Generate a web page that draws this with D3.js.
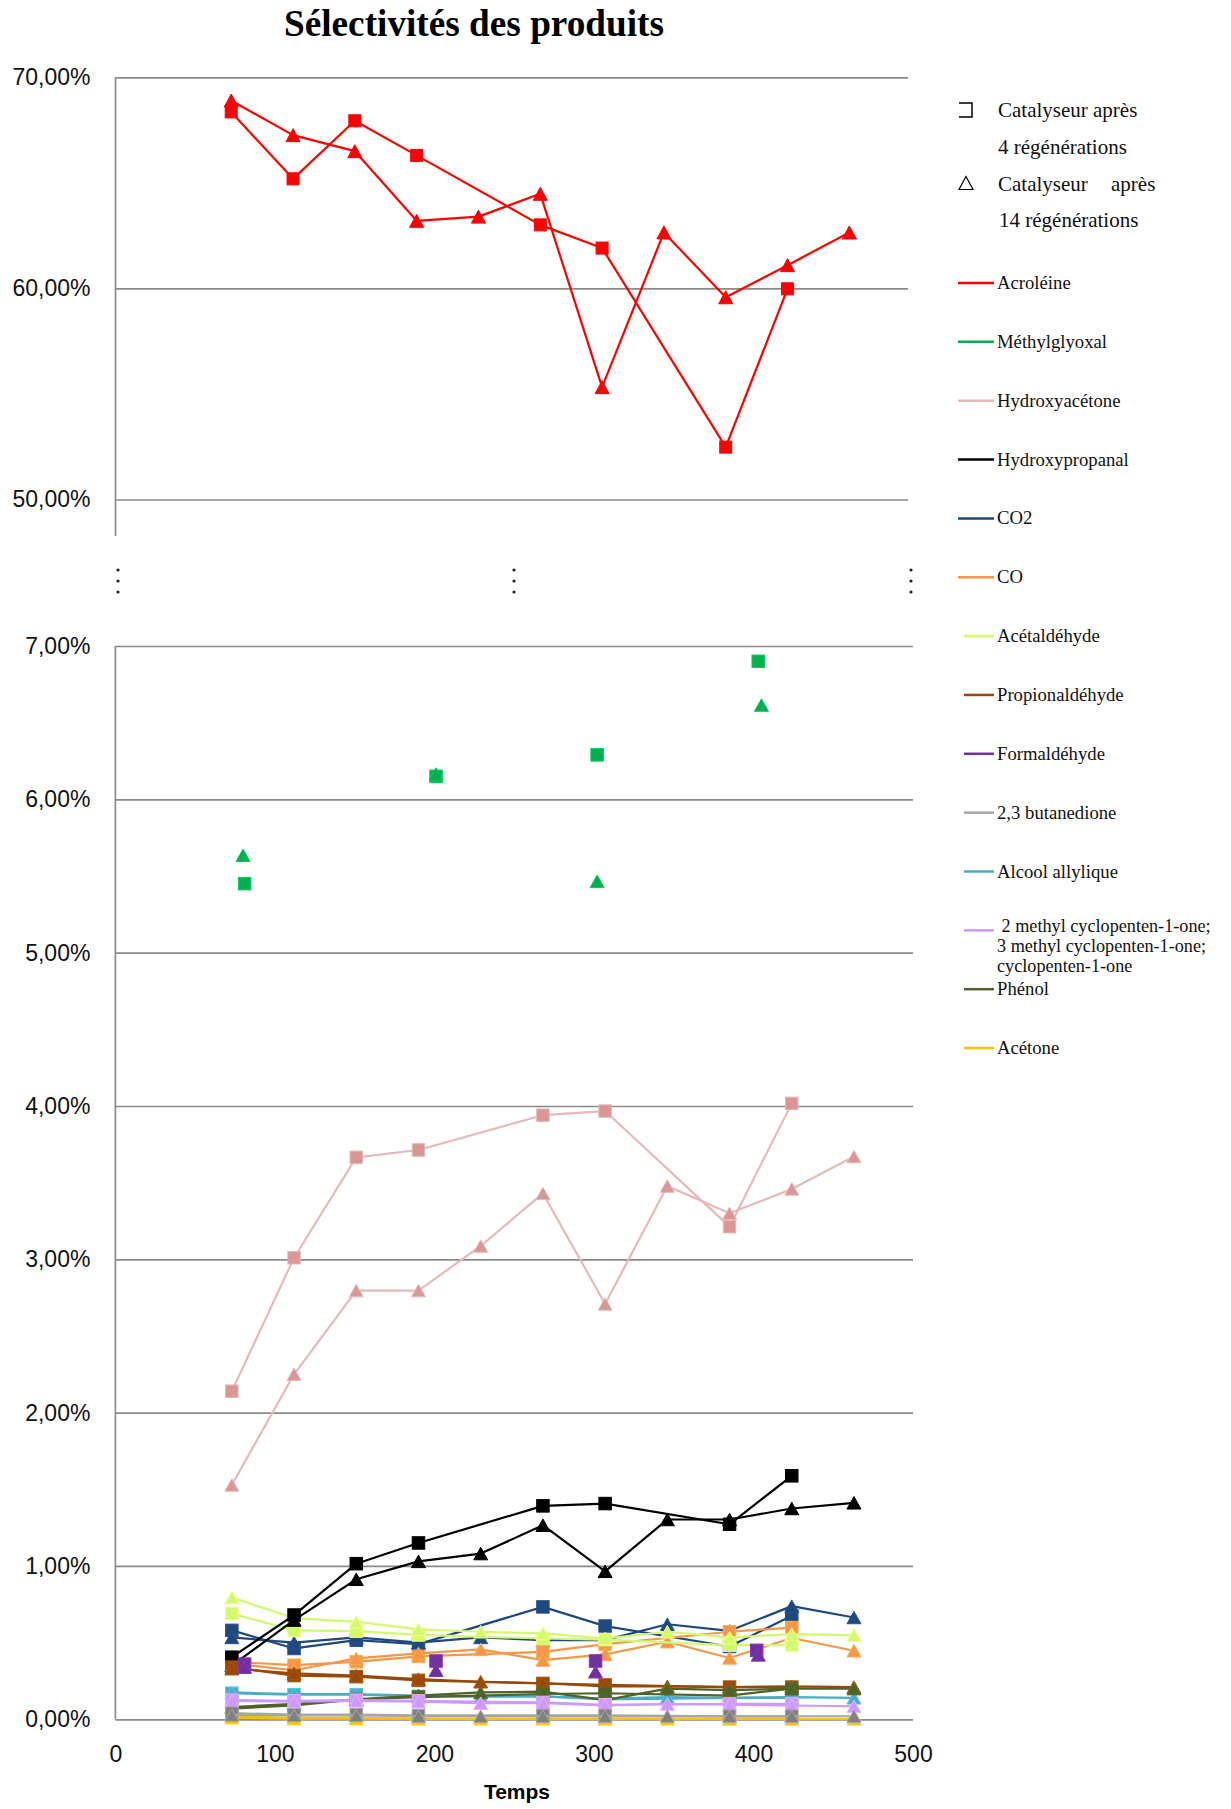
<!DOCTYPE html>
<html><head><meta charset="utf-8">
<script src="https://cdn.jsdelivr.net/npm/d3@7/dist/d3.min.js"></script>
<style>body{margin:0;background:#fff}svg{display:block}</style>
</head><body>
<svg id="c" width="1231" height="1809"></svg>
<script>
// ---------- DATA ----------
const titleText = "Sélectivités des produits";
const xLabel = "Temps";
const xTicks = [0, 100, 200, 300, 400, 500];
const topTicks = [50, 60, 70];
const bottomTicks = [0, 1, 2, 3, 4, 5, 6, 7];
// times (x) : squares = catalyseur après 4 régénérations, triangles = après 14 régénérations
const timesSq = [73, 112, 151, 190, 268, 307, 385, 424];
const timesTri = [73, 112, 151, 190, 229, 268, 307, 346, 385, 424, 463];
const methylTimesSq = [81, 201, 302, 403];
const methylTimesTri = [80, 201, 302, 405];
const formTimesSq = [81, 201, 301, 402];
const formTimesTri = [81, 201, 301, 403];

const acroleineSq = [68.36, 65.19, 67.94, 66.30, 63.01, 61.91, 52.48, 59.98];
const acroleineTri = [68.9, 67.26, 66.5, 63.2, 63.4, 64.48, 55.32, 62.65, 59.58, 61.1, 62.65];
const methylglyoxalSq = [5.45, 6.15, 6.29, 6.90];
const methylglyoxalTri = [5.635, 6.165, 5.465, 6.615];
const hydroxyacetoneSq = [2.14, 3.01, 3.665, 3.713, 3.94, 3.967, 3.213, 4.017];
const hydroxyacetoneTri = [1.528, 2.25, 2.796, 2.796, 3.087, 3.43, 2.709, 3.478, 3.30, 3.459, 3.67];
const hydroxypropanalSq = [0.405, 0.68, 1.015, 1.15, 1.392, 1.407, 1.272, 1.588];
const hydroxypropanalTri = [0.35, 0.647, 0.913, 1.03, 1.081, 1.266, 0.965, 1.303, 1.303, 1.375, 1.412];
const co2Sq = [0.58, 0.462, 0.516, 0.49, 0.733, 0.608, 0.475, 0.675];
const co2Tri = [0.534, 0.50, 0.534, 0.50, 0.534, 0.516, 0.516, 0.62, 0.577, 0.738, 0.664];
const coSq = [0.375, 0.353, 0.375, 0.41, 0.44, 0.49, 0.571, 0.598];
const coTri = [0.364, 0.32, 0.397, 0.43, 0.456, 0.386, 0.423, 0.506, 0.40, 0.53, 0.447];
const acetaldehydeSq = [0.69, 0.58, 0.575, 0.55, 0.527, 0.52, 0.484, 0.484];
const acetaldehydeTri = [0.794, 0.66, 0.636, 0.586, 0.571, 0.56, 0.527, 0.571, 0.534, 0.556, 0.549];
const propionaldehydeSq = [0.34, 0.285, 0.278, 0.254, 0.234, 0.224, 0.21, 0.21];
const propionaldehydeTri = [0.33, 0.30, 0.285, 0.262, 0.245, 0.235, 0.215, 0.215, 0.21, 0.215, 0.21];
const formaldehydeSq = [0.36, 0.38, 0.38, 0.45];
const formaldehydeTri = [0.34, 0.32, 0.31, 0.42];
const butanedioneSq = [0.04, 0.03, 0.03, 0.025, 0.025, 0.025, 0.02, 0.02];
const butanedioneTri = [0.028, 0.025, 0.025, 0.02, 0.02, 0.02, 0.02, 0.02, 0.02, 0.02, 0.02];
const allyliqueSq = [0.17, 0.16, 0.16, 0.15, 0.15, 0.13, 0.14, 0.14];
const allyliqueTri = [0.175, 0.165, 0.165, 0.155, 0.15, 0.15, 0.135, 0.145, 0.14, 0.145, 0.14];
const cyclopentenoneSq = [0.125, 0.12, 0.125, 0.12, 0.11, 0.095, 0.10, 0.10];
const cyclopentenoneTri = [0.12, 0.115, 0.12, 0.115, 0.105, 0.105, 0.09, 0.10, 0.095, 0.09, 0.085];
const phenolSq = [0.07, 0.09, 0.13, 0.145, 0.165, 0.17, 0.155, 0.20];
const phenolTri = [0.08, 0.10, 0.13, 0.155, 0.175, 0.18, 0.125, 0.20, 0.19, 0.20, 0.20];
const acetoneSq = [0.02, 0.01, 0.01, 0.005, 0.005, 0.005, 0.004, 0.004];
const acetoneTri = [0.01, 0.004, 0.004, 0.003, 0.003, 0.003, 0.003, 0.003, 0.003, 0.003, 0.003];

const legendHeader = [["Catalyseur après", "4 régénérations"], ["Catalyseur", "après", "14 régénérations"]];
const productNames = ["Acroléine", "Méthylglyoxal", "Hydroxyacétone", "Hydroxypropanal", "CO2", "CO",
  "Acétaldéhyde", "Propionaldéhyde", "Formaldéhyde", "2,3 butanedione", "Alcool allylique",
  " 2 methyl cyclopenten-1-one;\n3 methyl cyclopenten-1-one;\ncyclopenten-1-one", "Phénol", "Acétone"];
const lineColors = ["#FF0000", "#00B050", "#E6B9B8", "#000000", "#1F497D", "#F79646",
  "#D2FA6E", "#984807", "#7030A0", "#A6A6A6", "#4BACC6", "#CC99FF", "#4F6228", "#FFC000"];
const markerColors = ["#FF0000", "#00B050", "#D99694", "#000000", "#1F497D", "#F79646",
  "#D2FA6E", "#984807", "#7030A0", "#808080", "#4BACC6", "#CC99FF", "#4F6228", "#FFC000"];

// series table built from the arrays above (drawing order)
const bottomSeries = [
  {p: 13, ts: timesSq, sq: acetoneSq, tt: timesTri, tr: acetoneTri, line: true},
  {p: 1, ts: methylTimesSq, sq: methylglyoxalSq, tt: methylTimesTri, tr: methylglyoxalTri, line: false},
  {p: 2, ts: timesSq, sq: hydroxyacetoneSq, tt: timesTri, tr: hydroxyacetoneTri, line: true},
  {p: 4, ts: timesSq, sq: co2Sq, tt: timesTri, tr: co2Tri, line: true},
  {p: 5, ts: timesSq, sq: coSq, tt: timesTri, tr: coTri, line: true},
  {p: 6, ts: timesSq, sq: acetaldehydeSq, tt: timesTri, tr: acetaldehydeTri, line: true},
  {p: 3, ts: timesSq, sq: hydroxypropanalSq, tt: timesTri, tr: hydroxypropanalTri, line: true},
  {p: 7, ts: timesSq, sq: propionaldehydeSq, tt: timesTri, tr: propionaldehydeTri, line: true},
  {p: 8, ts: formTimesSq, sq: formaldehydeSq, tt: formTimesTri, tr: formaldehydeTri, line: false},
  {p: 10, ts: timesSq, sq: allyliqueSq, tt: timesTri, tr: allyliqueTri, line: true},
  {p: 12, ts: timesSq, sq: phenolSq, tt: timesTri, tr: phenolTri, line: true},
  {p: 11, ts: timesSq, sq: cyclopentenoneSq, tt: timesTri, tr: cyclopentenoneTri, line: true},
  {p: 9, ts: timesSq, sq: butanedioneSq, tt: timesTri, tr: butanedioneTri, line: true}
];
const topSeries = [{p: 0, ts: timesSq, sq: acroleineSq, tt: timesTri, tr: acroleineTri, line: true}];

// ---------- DRAWING ----------
const svg = d3.select("#c");
const fmt = d => d3.format(".2f")(d).replace(".", ",") + "%";
const tickFont = "'Liberation Sans', Arial, sans-serif";
const serif = "'Liberation Serif', 'Times New Roman', serif";

const xTop = d3.scaleLinear().domain([0, 500]).range([115.5, 908]);
const yTop = d3.scaleLinear().domain([48.27, 70]).range([536, 77.3]);
const xBot = d3.scaleLinear().domain([0, 500]).range([115.4, 913]);
const yBot = d3.scaleLinear().domain([0, 7]).range([1719.3, 646]);

function gridAxis(x, y, ticks) {
  const g = svg.append("g").attr("transform", `translate(${x.range()[0]},0)`)
    .call(d3.axisLeft(y).tickValues(ticks).tickSize(-(x.range()[1] - x.range()[0])).tickPadding(25).tickFormat(fmt));
  g.select(".domain").remove();
  g.selectAll(".tick line").attr("stroke", "#8a8a8a").attr("stroke-width", 1.7);
  g.selectAll(".tick text").attr("font-family", tickFont).attr("font-size", 23).attr("fill", "#111");
  svg.append("line").attr("x1", x.range()[0]).attr("x2", x.range()[0])
    .attr("y1", y.range()[1]).attr("y2", y.range()[0]).attr("stroke", "#8a8a8a").attr("stroke-width", 1.7);
}
gridAxis(xTop, yTop, topTicks);
gridAxis(xBot, yBot, bottomTicks);

// x axis labels (bottom)
const xa = svg.append("g").attr("transform", `translate(0,${yBot(0)})`)
  .call(d3.axisBottom(xBot).tickValues(xTicks).tickSize(0).tickPadding(26));
xa.select(".domain").remove();
xa.selectAll(".tick text").attr("font-family", tickFont).attr("font-size", 23).attr("fill", "#111");
svg.append("text").attr("x", 517).attr("y", 1799).attr("text-anchor", "middle")
  .attr("font-family", tickFont).attr("font-weight", "bold").attr("font-size", 21).text(xLabel);

// title
svg.append("text").attr("x", 474).attr("y", 36).attr("text-anchor", "middle")
  .attr("font-family", serif).attr("font-weight", "bold").attr("font-size", 37)
  .attr("textLength", 380).attr("lengthAdjust", "spacingAndGlyphs").text(titleText);

// break dots
[118, 514, 911].forEach(x => [570, 581, 592].forEach(y =>
  svg.append("circle").attr("cx", x).attr("cy", y).attr("r", 1.6).attr("fill", "#222")));

function triPath(cx, cy, w, h) {
  return `M${cx},${cy - h / 2}L${cx + w / 2},${cy + h / 2}L${cx - w / 2},${cy + h / 2}Z`;
}
function strokeOf(p) {
  if (p === 2) return "#E6B9B8";
  if (p === 9) return "#A6A6A6";
  if (p === 3) return "#000";
  return d3.color(markerColors[p]).brighter(0.4).formatHex();
}

function drawSeries(list, x, y, sqSize, triW, triH) {
  list.forEach(s => {
    const g = svg.append("g");
    const line = d3.line().x(d => x(d[0])).y(d => y(d[1]));
    const sqData = s.ts.map((t, i) => [t, s.sq[i]]);
    const trData = s.tt.map((t, i) => [t, s.tr[i]]);
    if (s.line) {
      g.append("path").attr("d", line(sqData)).attr("fill", "none")
        .attr("stroke", lineColors[s.p]).attr("stroke-width", 2.2).attr("stroke-linejoin", "round");
    }
    g.selectAll("rect.sq").data(sqData).enter().append("rect")
      .attr("x", d => x(d[0]) - sqSize / 2).attr("y", d => y(d[1]) - sqSize / 2)
      .attr("width", sqSize).attr("height", sqSize)
      .attr("fill", markerColors[s.p]).attr("stroke", strokeOf(s.p)).attr("stroke-width", 1);
    if (s.line) {
      g.append("path").attr("d", line(trData)).attr("fill", "none")
        .attr("stroke", lineColors[s.p]).attr("stroke-width", 2.2).attr("stroke-linejoin", "round");
    }
    g.selectAll("path.tr").data(trData).enter().append("path")
      .attr("d", d => triPath(x(d[0]), y(d[1]), triW, triH))
      .attr("fill", markerColors[s.p]).attr("stroke", strokeOf(s.p)).attr("stroke-width", 1);
  });
}
drawSeries(topSeries, xTop, yTop, 12, 14, 13);
drawSeries(bottomSeries, xBot, yBot, 12.5, 14, 12.5);

// legend
const lg = svg.append("g");
lg.append("path").attr("d", "M959,103H972V117H959").attr("fill", "none").attr("stroke", "#000").attr("stroke-width", 1.5);
lg.append("path").attr("d", triPath(966, 183, 14, 13)).attr("fill", "none").attr("stroke", "#000").attr("stroke-width", 1.2);
const hdr = [[legendHeader[0][0], 998, 117], [legendHeader[0][1], 998, 154],
  [legendHeader[1][0], 998, 191], [legendHeader[1][1], 1111, 191], [legendHeader[1][2], 999, 227]];
hdr.forEach(h => lg.append("text").attr("x", h[1]).attr("y", h[2]).attr("font-family", serif)
  .attr("font-size", 21).attr("fill", "#111").text(h[0]));
const legY0 = 283, legStep = 58.85;
productNames.forEach((name, i) => {
  const cy = legY0 + i * legStep;
  const x1 = i < 6 ? 958 : 964;
  lg.append("line").attr("x1", x1).attr("x2", 994).attr("y1", cy).attr("y2", cy)
    .attr("stroke", lineColors[i]).attr("stroke-width", 2.5);
  const lines = name.split("\n");
  if (lines.length === 1) {
    lg.append("text").attr("x", 997).attr("y", cy + 6).attr("font-family", serif).attr("font-size", 18.7)
      .attr("fill", "#111").text(name);
  } else {
    lines.forEach((ln, k) => lg.append("text").attr("x", 997).attr("y", cy + 2 + k * 20)
      .attr("font-family", serif).attr("font-size", 18.2).attr("fill", "#111")
      .attr("xml:space", "preserve").style("white-space", "pre").text(ln));
  }
});
</script>
</body></html>
